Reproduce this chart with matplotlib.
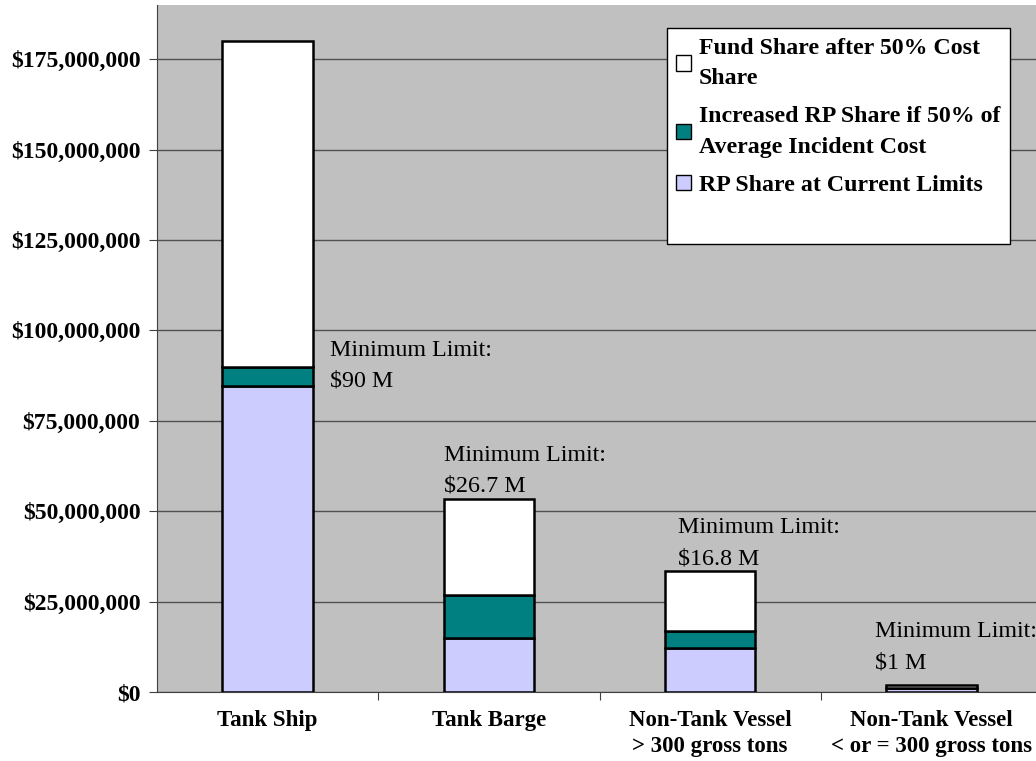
import matplotlib.pyplot as plt
from matplotlib.patches import Patch
from matplotlib.ticker import FuncFormatter

# values, in dollars
categories = ["Tank Ship", "Tank Barge", "Non-Tank Vessel\n> 300 gross tons",
              "Non-Tank Vessel\n< or = 300 gross tons"]
rp_share = [84.7e6, 14.9e6, 12.2e6, 1.0e6]
increased_rp = [5.3e6, 11.8e6, 4.6e6, 0.0]
fund_share = [90.0e6, 26.7e6, 16.8e6, 1.0e6]

series_labels = ["Fund Share after 50% Cost\nShare",
                 "Increased RP Share if 50% of\nAverage Incident Cost",
                 "RP Share at Current Limits"]

limit_labels = ["Minimum Limit:\n$90 M", "Minimum Limit:\n$26.7 M",
                "Minimum Limit:\n$16.8 M", "Minimum Limit:\n$1 M"]
# where each note sits (x in category units, y = baseline of last line)
limit_pos = [(0.283, 84.4e6), (0.799, 55.4e6), (1.857, 35.4e6), (2.744, 6.6e6)]

plt.rcParams['font.family'] = ['Liberation Serif', 'DejaVu Serif']

fig = plt.figure(figsize=(10.36, 7.61), dpi=100)
ax = fig.add_axes([157 / 1036, 69 / 761, 885 / 1036, 687 / 761])
ax.set_facecolor('#C0C0C0')

x = list(range(len(categories)))
w = 0.41
bottom2 = [a + b for a, b in zip(rp_share, increased_rp)]
ax.bar(x, rp_share, w, color='#CCCCFF', edgecolor='black', linewidth=1.8, zorder=3)
ax.bar(x, increased_rp, w, bottom=rp_share, color='#008080', edgecolor='black',
       linewidth=1.8, zorder=3)
ax.bar(x, fund_share, w, bottom=bottom2, color='white', edgecolor='black',
       linewidth=1.8, zorder=3)

ax.set_xlim(-0.5, 3.5)
ax.set_ylim(0, 190e6)
ax.set_yticks([i * 25e6 for i in range(8)])
ax.yaxis.set_major_formatter(FuncFormatter(lambda v, p: "${:,.0f}".format(v)))
ax.grid(axis='y', color='#505050', linewidth=1, zorder=1)

ax.set_xticks([i - 0.5 for i in range(1, 4)], minor=False)
ax.set_xticklabels([])
ax.set_xticks(x, minor=True)
ax.set_xticklabels(categories, minor=True, fontweight='bold', fontsize=16.5,
                   linespacing=1.3)
ax.tick_params(axis='x', which='minor', length=0, pad=13)
ax.tick_params(axis='x', which='major', length=6, color='#404040', direction='out')
ax.tick_params(axis='y', length=6, color='#404040', labelsize=17, pad=6)
for lab in ax.get_yticklabels():
    lab.set_fontweight('bold')

for s in ['top', 'right']:
    ax.spines[s].set_visible(False)
ax.spines['left'].set_color('#404040')
ax.spines['bottom'].set_color('#404040')

for (tx, ty), txt in zip(limit_pos, limit_labels):
    ax.text(tx, ty, txt, fontsize=17.3, va='baseline', ha='left', linespacing=1.62,
            zorder=4)

handles = [Patch(facecolor='white', edgecolor='black'),
           Patch(facecolor='#008080', edgecolor='black'),
           Patch(facecolor='#CCCCFF', edgecolor='black'),
           Patch(visible=False)]
leg = ax.legend(handles, series_labels + [" "], loc='upper left',
                bbox_to_anchor=(0.576, 0.9665), borderaxespad=0,
                prop={'weight': 'bold', 'size': 17.2}, fancybox=False,
                edgecolor='black', framealpha=1, handlelength=0.6,
                handleheight=0.6, handletextpad=0.35, labelspacing=0.72,
                borderpad=0.4)
for t in leg.get_texts():
    t.set_linespacing(1.6)
leg.get_frame().set_linewidth(1)
leg.set_zorder(5)

fig.savefig('out.png', dpi=100)
